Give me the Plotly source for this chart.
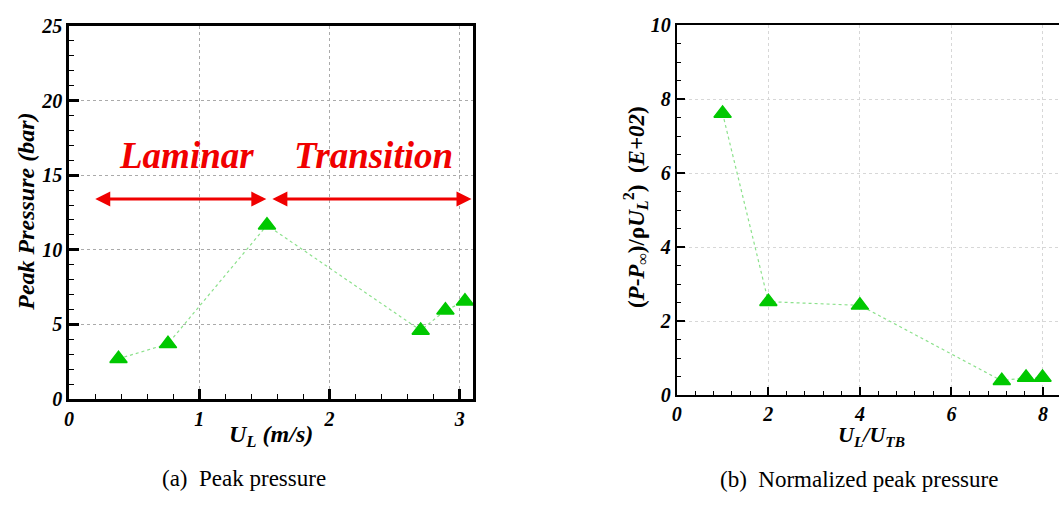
import plotly.graph_objects as go

W, H = 1059, 506

# ---- data (a) ----
ul = [0.38, 0.76, 1.52, 2.70, 2.89, 3.04]
peak_p = [2.7, 3.7, 11.65, 4.6, 5.95, 6.55]

# ---- data (b) ----
ul_utb = [1.0, 2.0, 4.0, 7.1, 7.63, 7.99]
norm_p = [7.62, 2.53, 2.43, 0.39, 0.48, 0.48]

left_xticks = [0, 1, 2, 3]
left_yticks = [0, 5, 10, 15, 20, 25]
right_xticks = [0, 2, 4, 6, 8]
right_yticks = [0, 2, 4, 6, 8, 10]

SERIF = "'Liberation Serif', 'Times New Roman', Times, 'DejaVu Serif', serif"
GREEN = "rgb(0,200,0)"
LINE_GREEN = "rgb(140,225,140)"
RED = "rgb(240,0,0)"


def px(x):
    return x / W


def py(y):
    return 1 - y / H


tickfont = dict(family=SERIF, size=20, color="black", weight="bold", style="italic")

fig = go.Figure()

fig.add_trace(go.Scatter(
    x=ul, y=peak_p, mode="lines+markers", xaxis="x", yaxis="y",
    line=dict(color=LINE_GREEN, width=1.2, dash="dot"),
    marker=dict(symbol="triangle-up", size=15, color=GREEN,
                line=dict(color=GREEN, width=1.5)),
    showlegend=False, cliponaxis=False))

fig.add_trace(go.Scatter(
    x=ul_utb, y=norm_p, mode="lines+markers", xaxis="x2", yaxis="y2",
    line=dict(color=LINE_GREEN, width=1.2, dash="dot"),
    marker=dict(symbol="triangle-up", size=15, color=GREEN,
                line=dict(color=GREEN, width=1.5)),
    showlegend=False, cliponaxis=False))

common = dict(showline=True, linecolor="black", ticks="inside",
              tickcolor="black", tickfont=tickfont, zeroline=False,
              showgrid=True, griddash="dot")

fig.update_layout(
    width=W, height=H,
    margin=dict(l=0, r=0, t=0, b=0),
    paper_bgcolor="white", plot_bgcolor="white",
    font=dict(family=SERIF),
    xaxis=dict(**common, domain=[px(64.3), px(470)], range=[0, 3.1],
               tickvals=left_xticks, linewidth=2.5, ticklen=10, tickwidth=2.5,
               gridcolor="rgb(170,170,170)", gridwidth=1, mirror=True,
               minor=dict(dtick=0.2, ticklen=5, tickwidth=1.2, ticks="inside",
                          tickcolor="black", showgrid=False),
               anchor="y"),
    yaxis=dict(**common, domain=[py(405.7), py(15.7)], range=[0, 25],
               tickvals=left_yticks, linewidth=2.5, ticklen=10, tickwidth=2.5,
               gridcolor="rgb(170,170,170)", gridwidth=1, mirror=True,
               minor=dict(dtick=1, ticklen=5, tickwidth=1.2, ticks="inside",
                          tickcolor="black", showgrid=False),
               anchor="x"),
    xaxis2=dict(**common, domain=[px(675), 1.0], range=[0, 8.35],
                tickvals=right_xticks, linewidth=2.2, ticklen=8, tickwidth=2.2,
                gridcolor="rgb(215,215,215)", gridwidth=1, mirror=True,
                minor=dict(dtick=0.4, ticklen=4, tickwidth=1, ticks="inside",
                           tickcolor="black", showgrid=False),
                anchor="y2"),
    yaxis2=dict(**common, domain=[py(401.7), py(15)], range=[0, 10],
                tickvals=right_yticks, linewidth=2.2, ticklen=8, tickwidth=2.2,
                gridcolor="rgb(215,215,215)", gridwidth=1, mirror=False,
                minor=dict(dtick=0.5, ticklen=4, tickwidth=1, ticks="inside",
                           tickcolor="black", showgrid=False),
                anchor="x2"),
)

ann = []
# Axis titles
ann.append(dict(xref="paper", yref="paper", x=px(21), y=py(210), textangle=-90,
                text="<b><i>Peak Pressure (bar)</i></b>", showarrow=False,
                font=dict(family=SERIF, size=24, color="black"),
                xanchor="center", yanchor="middle"))
ann.append(dict(xref="paper", yref="paper", x=px(267), y=py(444),
                text="<b><i>U<sub>L</sub> (m/s)</i></b>", showarrow=False,
                font=dict(family=SERIF, size=24, color="black"),
                xanchor="center", yanchor="middle"))
ann.append(dict(xref="paper", yref="paper", x=px(633), y=py(205), textangle=-90,
                text="<b>(<i>P</i>-<i>P</i><sub>∞</sub>)/ρ<i>U</i><sub><i>L</i></sub><sup>2</sup>)  (<i>E+02</i>)</b>",
                showarrow=False,
                font=dict(family=SERIF, size=23, color="black"),
                xanchor="center", yanchor="middle"))
ann.append(dict(xref="paper", yref="paper", x=px(871), y=py(444),
                text="<b><i>U<sub>L</sub>/U<sub>TB</sub></i></b>", showarrow=False,
                font=dict(family=SERIF, size=22, color="black"),
                xanchor="center", yanchor="middle"))
# Captions
ann.append(dict(xref="paper", yref="paper", x=px(240), y=py(489),
                text="(a)  Peak pressure", showarrow=False,
                font=dict(family=SERIF, size=23, color="black"),
                xanchor="center", yanchor="middle"))
ann.append(dict(xref="paper", yref="paper", x=px(858), y=py(490),
                text="(b)  Normalized peak pressure", showarrow=False,
                font=dict(family=SERIF, size=23, color="black"),
                xanchor="center", yanchor="middle"))
# Regime labels
ann.append(dict(xref="x", yref="y", x=0.9, y=16.3,
                text="<b><i>Laminar</i></b>", showarrow=False,
                font=dict(family=SERIF, size=37, color=RED),
                xanchor="center", yanchor="middle"))
ann.append(dict(xref="x", yref="y", x=2.34, y=16.3,
                text="<b><i>Transition</i></b>", showarrow=False,
                font=dict(family=SERIF, size=37, color=RED),
                xanchor="center", yanchor="middle"))
# Double-headed arrows
ann.append(dict(xref="x", yref="y", axref="x", ayref="y",
                x=1.515, y=13.4, ax=0.19, ay=13.4, text="",
                showarrow=True, arrowhead=2, startarrowhead=2, arrowside="end+start",
                arrowsize=1.0, startarrowsize=1.0, arrowwidth=3, arrowcolor=RED))
ann.append(dict(xref="x", yref="y", axref="x", ayref="y",
                x=3.09, y=13.4, ax=1.55, ay=13.4, text="",
                showarrow=True, arrowhead=2, startarrowhead=2, arrowside="end+start",
                arrowsize=1.0, startarrowsize=1.0, arrowwidth=3, arrowcolor=RED))

fig.update_layout(annotations=ann)

fig.write_html("out.html")
